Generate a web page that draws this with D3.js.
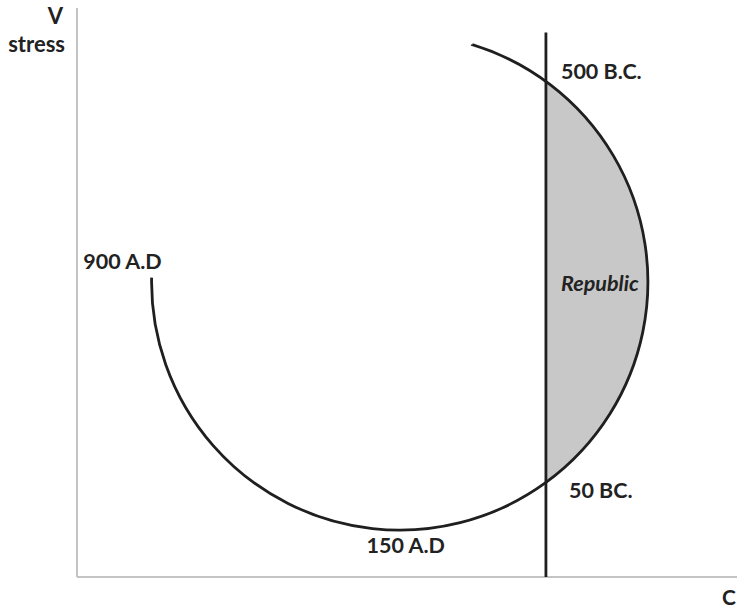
<!DOCTYPE html>
<html>
<head>
<meta charset="utf-8">
<script src="https://cdn.jsdelivr.net/npm/d3@7"></script>
<style>
  html, body { margin: 0; padding: 0; background: #fff; }
  svg text { font-family: Lato, "Open Sans", sans-serif; fill: #222; }
</style>
</head>
<body>
<svg id="chart" width="739" height="610"></svg>
<script>
// Cycle of stress (V) against complexity (C), in chart units
const cycleCenter = [48.9, 44.7];     // [C, V]
const cycleRadius = 37.6;
const cycleArc = [73, -181];           // start / end angle, degrees, counter-clockwise from +C
const crisisC = 71.05;                 // vertical threshold line
const crisisTop = 82.5;                // V where the threshold line ends

// Labelled moments on the cycle (angle in degrees on the circle)
const eventNames = ["500 B.C.", "50 BC.", "150 A.D", "900 A.D"];
const eventAngles = [53.9, -53.9, -90, -181];

const regionName = "Republic";
const axisNames = { x: "C", y: ["V", "stress"] };

const svg = d3.select("#chart");
const x = d3.scaleLinear().domain([0, 100]).range([77, 737]);
const y = d3.scaleLinear().domain([0, 85.9]).range([577, 10]);

const toRad = d => d * Math.PI / 180;
// point on the circle, in chart units
const onCycle = a => [cycleCenter[0] + cycleRadius * Math.cos(toRad(a)),
                      cycleCenter[1] + cycleRadius * Math.sin(toRad(a))];

const cx = x(cycleCenter[0]), cy = y(cycleCenter[1]);
const r = x(cycleRadius) - x(0);
// screen angle (y down) for a math angle
const scr = a => -toRad(a);

// shaded region between threshold and arc
const dx = cycleRadius, lineOff = crisisC - cycleCenter[0];
const half = Math.acos(lineOff / dx) * 180 / Math.PI;
const shade = d3.path();
shade.moveTo(x(crisisC), y(cycleCenter[1] + Math.sqrt(dx * dx - lineOff * lineOff)));
shade.arc(cx, cy, r, scr(half), scr(-half), false);
shade.closePath();
svg.append("path").attr("d", shade.toString()).attr("fill", "#c8c8c8");

// axes
svg.append("line")
  .attr("x1", x(0)).attr("x2", x(0)).attr("y1", y(85.9) - 2).attr("y2", y(0))
  .attr("stroke", "#c4c4c4").attr("stroke-width", 2);
svg.append("line")
  .attr("x1", x(0)).attr("x2", x(100)).attr("y1", y(0)).attr("y2", y(0))
  .attr("stroke", "#c4c4c4").attr("stroke-width", 2);

// cycle arc
const arcPath = d3.path();
const s = onCycle(cycleArc[0]);
arcPath.moveTo(x(s[0]), y(s[1]));
arcPath.arc(cx, cy, r, scr(cycleArc[0]), scr(cycleArc[1]), false);
svg.append("path").attr("d", arcPath.toString())
  .attr("fill", "none").attr("stroke", "#1f1f1f").attr("stroke-width", 2.8);

// threshold line
svg.append("line")
  .attr("x1", x(crisisC)).attr("x2", x(crisisC)).attr("y1", y(crisisTop)).attr("y2", y(0))
  .attr("stroke", "#1f1f1f").attr("stroke-width", 2.8);

// event labels
const labelOffsets = [[15, -2, "start"], [23, 16, "start"], [6, 23, "middle"], [10, -9, "end"]];
svg.selectAll("text.event").data(eventNames).join("text")
  .attr("class", "event")
  .attr("x", (d, i) => {
    const p = onCycle(eventAngles[i]);
    return (i < 2 ? x(crisisC) : x(p[0])) + labelOffsets[i][0];
  })
  .attr("y", (d, i) => y(onCycle(eventAngles[i])[1]) + labelOffsets[i][1])
  .attr("text-anchor", (d, i) => labelOffsets[i][2])
  .attr("font-size", 21.5).attr("font-weight", "bold")
  .text(d => d);

// region label
svg.append("text")
  .attr("x", (x(crisisC) + cx + r) / 2 + 3).attr("y", cy + 9)
  .attr("text-anchor", "middle")
  .attr("font-size", 21.5).attr("font-weight", "bold").attr("font-style", "italic")
  .text(regionName);

// axis titles
svg.append("text").attr("x", 63).attr("y", 24).attr("text-anchor", "end")
  .attr("font-size", 22).attr("font-weight", "bold").text(axisNames.y[0]);
svg.append("text").attr("x", 65).attr("y", 52).attr("text-anchor", "end")
  .attr("font-size", 22).attr("font-weight", "bold").text(axisNames.y[1]);
svg.append("text").attr("x", 736).attr("y", 605).attr("text-anchor", "end")
  .attr("font-size", 21).attr("font-weight", "bold").text(axisNames.x);
</script>
</body>
</html>
